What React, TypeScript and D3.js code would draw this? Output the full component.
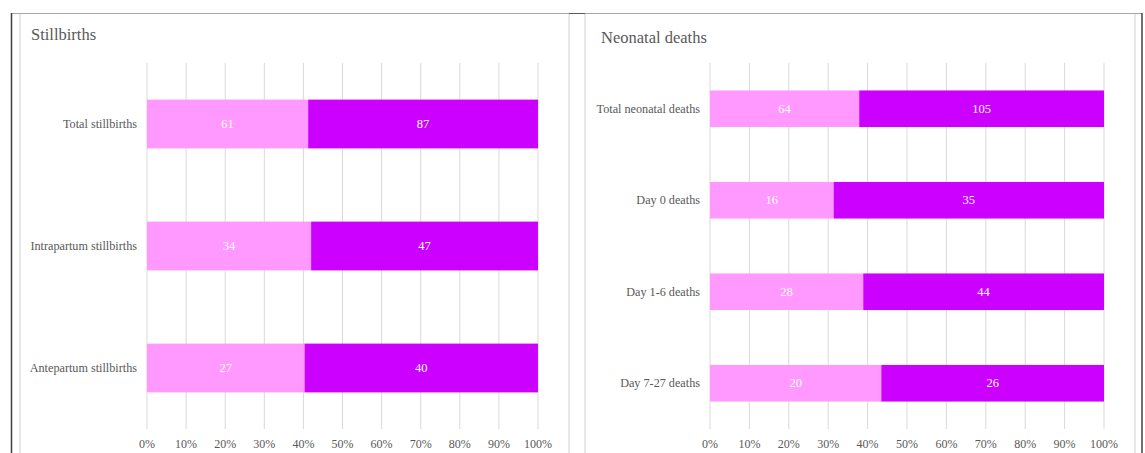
import React from 'react';
import * as d3 from 'd3';

// stillbirths panel
const stillCategories = ['Total stillbirths', 'Intrapartum stillbirths', 'Antepartum stillbirths'];
const stillFirst = [61, 34, 27];
const stillSecond = [87, 47, 40];

// neonatal deaths panel
const neoCategories = ['Total neonatal deaths', 'Day 0 deaths', 'Day 1-6 deaths', 'Day 7-27 deaths'];
const neoFirst = [64, 16, 28, 20];
const neoSecond = [105, 35, 44, 26];

const pctTicks = [0, 0.1, 0.2, 0.3, 0.4, 0.5, 0.6, 0.7, 0.8, 0.9, 1];

const LIGHT = '#FF99FF';
const DARK = '#CC00FF';
const FONT = '"Liberation Serif", "Times New Roman", serif';
const GREY_TEXT = '#595959';

type PanelProps = {
  title: string;
  titleX: number;
  titleY: number;
  categories: string[];
  first: number[];
  second: number[];
  x0: number;
  x1: number;
};

const Panel = ({ title, titleX, titleY, categories, first, second, x0, x1 }: PanelProps) => {
  const x = d3.scaleLinear().domain([0, 1]).range([x0, x1]);
  const y = d3.scaleBand<string>().domain(categories).range([63, 429]).paddingInner(0.6).paddingOuter(0.3);
  const fmt = d3.format('.0%');

  return (
    <g>
      <text x={titleX} y={titleY} fontFamily={FONT} fontSize={16.5} fill={GREY_TEXT}>{title}</text>
      {pctTicks.map(t => (
        <g key={t}>
          <line x1={x(t)} x2={x(t)} y1={63} y2={429} stroke="#d9d9d9" strokeWidth={1} />
          <text x={x(t)} y={448} textAnchor="middle" fontFamily={FONT} fontSize={12} fill={GREY_TEXT}>{fmt(t)}</text>
        </g>
      ))}
      {categories.map((c, i) => {
        const total = first[i] + second[i];
        const split = first[i] / total;
        const by = y(c) as number;
        const bh = y.bandwidth();
        return (
          <g key={c}>
            <rect x={x(0)} y={by} width={x(split) - x(0)} height={bh} fill={LIGHT} />
            <rect x={x(split)} y={by} width={x(1) - x(split)} height={bh} fill={DARK} />
            <text x={(x(0) + x(split)) / 2} y={by + bh / 2 + 4} textAnchor="middle" fontFamily={FONT} fontSize={12.5} fill="#ffffff">{first[i]}</text>
            <text x={(x(split) + x(1)) / 2} y={by + bh / 2 + 4} textAnchor="middle" fontFamily={FONT} fontSize={12.5} fill="#ffffff">{second[i]}</text>
            <text x={x0 - 10} y={by + bh / 2 + 4} textAnchor="end" fontFamily={FONT} fontSize={12.2} fill={GREY_TEXT}>{c}</text>
          </g>
        );
      })}
    </g>
  );
};

export default function App() {
  return (
    <svg width={1145} height={453} style={{ position: 'absolute', left: 0, top: 0, background: '#fff' }}>
      {/* outer frame */}
      <line x1={11} x2={1142} y1={13.5} y2={13.5} stroke="#a6a6a6" strokeWidth={1} />
      <line x1={569} x2={585} y1={13.5} y2={13.5} stroke="#595959" strokeWidth={1} />
      <line x1={11.5} x2={11.5} y1={13} y2={453} stroke="#404040" strokeWidth={1.5} />
      <line x1={1142} x2={1142} y1={13} y2={453} stroke="#404040" strokeWidth={1.5} />
      {/* panel borders */}
      <line x1={20} x2={20} y1={14} y2={453} stroke="#e0e0e0" strokeWidth={1.5} />
      <line x1={569} x2={569} y1={14} y2={453} stroke="#e0e0e0" strokeWidth={1.5} />
      <line x1={585} x2={585} y1={14} y2={453} stroke="#e0e0e0" strokeWidth={1.5} />
      <line x1={1135} x2={1135} y1={14} y2={453} stroke="#e0e0e0" strokeWidth={1.5} />
      <Panel title="Stillbirths" titleX={31} titleY={40} categories={stillCategories}
        first={stillFirst} second={stillSecond} x0={147} x1={538} />
      <Panel title="Neonatal deaths" titleX={601} titleY={43} categories={neoCategories}
        first={neoFirst} second={neoSecond} x0={710} x1={1104} />
    </svg>
  );
}
